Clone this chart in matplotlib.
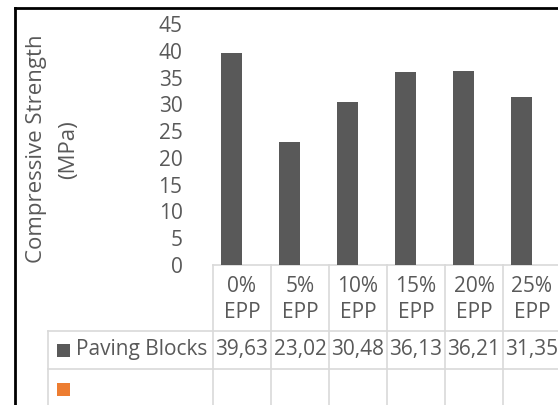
import matplotlib

matplotlib.use("Agg")
import matplotlib.pyplot as plt
import numpy as np
from matplotlib.lines import Line2D
from matplotlib.patches import Rectangle
from matplotlib.transforms import blended_transform_factory

categories = ["0%\nEPP", "5%\nEPP", "10%\nEPP", "15%\nEPP", "20%\nEPP", "25%\nEPP"]
series_names = ["Paving Blocks", ""]
paving_blocks = [39.63, 23.02, 30.48, 36.13, 36.21, 31.35]
y_ticks = [0, 5, 10, 15, 20, 25, 30, 35, 40, 45]

BAR_COLOR = "#595959"
SECOND_COLOR = "#ED7D31"
TEXT_COLOR = "#595959"
GRID_COLOR = "#D9D9D9"
FONT = "Open Sans"
FS = 15

W, H = 558, 405
fig = plt.figure(figsize=(W / 100, H / 100), dpi=100)
plt.rcParams["font.family"] = FONT


def fx(px):
    return px / W


def fy(py):
    return 1 - py / H


# plot area in pixel terms: left 213, right 561, top (45) at 24, zero at 265
ax = fig.add_axes([fx(213), fy(265), fx(561 - 213), (265 - 24) / H])
x = np.arange(len(categories))
bar_w = 0.362
ax.bar(x - bar_w / 2, paving_blocks, bar_w, color=BAR_COLOR, zorder=3)
ax.set_xlim(-0.5, len(categories) - 0.5)
ax.set_ylim(0, 45)
ax.set_yticks(y_ticks)
ax.set_yticklabels([str(v) for v in y_ticks], fontsize=FS, color=TEXT_COLOR)
ax.tick_params(axis="y", length=0, pad=22)
ax.set_xticks([])
for s in ax.spines.values():
    s.set_visible(False)

fig.text(fx(37), fy(149), "Compressive Strength", rotation=90, ha="center", va="center",
         fontsize=16, color=TEXT_COLOR)
fig.text(fx(69), fy(150), "(MPa)", rotation=90, ha="center", va="center",
         fontsize=16, color=TEXT_COLOR)

# data table beneath the plot: x in category units, y in figure fraction
tr = blended_transform_factory(ax.transData, fig.transFigure)
left_edge = -0.5 - (213 - 48) / 58
row_top, row_hdr, row_data, row_bot = 265, 331, 369, 420

ax.add_line(Line2D([-0.5, len(categories) - 0.5], [fy(row_top)] * 2, transform=tr,
                   color=GRID_COLOR, lw=1.2, clip_on=False))
for yl in (row_hdr, row_data):
    ax.add_line(Line2D([left_edge, len(categories) - 0.5], [fy(yl)] * 2, transform=tr,
                       color=GRID_COLOR, lw=1.2, clip_on=False))
for xi in np.arange(len(categories) + 1) - 0.5:
    ax.add_line(Line2D([xi, xi], [fy(row_top), fy(row_bot)], transform=tr,
                       color=GRID_COLOR, lw=1.2, clip_on=False))
ax.add_line(Line2D([left_edge, left_edge], [fy(row_hdr), fy(row_bot)], transform=tr,
                   color=GRID_COLOR, lw=1.2, clip_on=False))

for xi, label in zip(x, categories):
    top, bottom = label.split("\n")
    ax.text(xi, fy(286), top, transform=tr, ha="center", va="center",
            fontsize=FS, color=TEXT_COLOR)
    ax.text(xi, fy(312), bottom, transform=tr, ha="center", va="center",
            fontsize=FS, color=TEXT_COLOR)
for xi, val in zip(x, paving_blocks):
    ax.text(xi, fy(350), f"{val:.2f}".replace(".", ","), transform=tr, ha="center",
            va="center", fontsize=FS, color=TEXT_COLOR)

# legend keys in the first table column
for name, color, yc in zip(series_names, [BAR_COLOR, SECOND_COLOR], [350, 389]):
    fig.add_artist(Rectangle((fx(57), fy(yc + 7)), fx(13), 13 / H, transform=fig.transFigure,
                             facecolor=color, edgecolor="none"))
    if name:
        fig.text(fx(76), fy(yc), name, ha="left", va="center", fontsize=FS, color=TEXT_COLOR)

# chart frame
fig.add_artist(Line2D([fx(15), fx(15)], [fy(8), 0], transform=fig.transFigure,
                      color="black", lw=2))
fig.add_artist(Line2D([fx(15), 1], [fy(8), fy(8)], transform=fig.transFigure,
                      color="black", lw=2))

fig.savefig("out.png", dpi=100)
